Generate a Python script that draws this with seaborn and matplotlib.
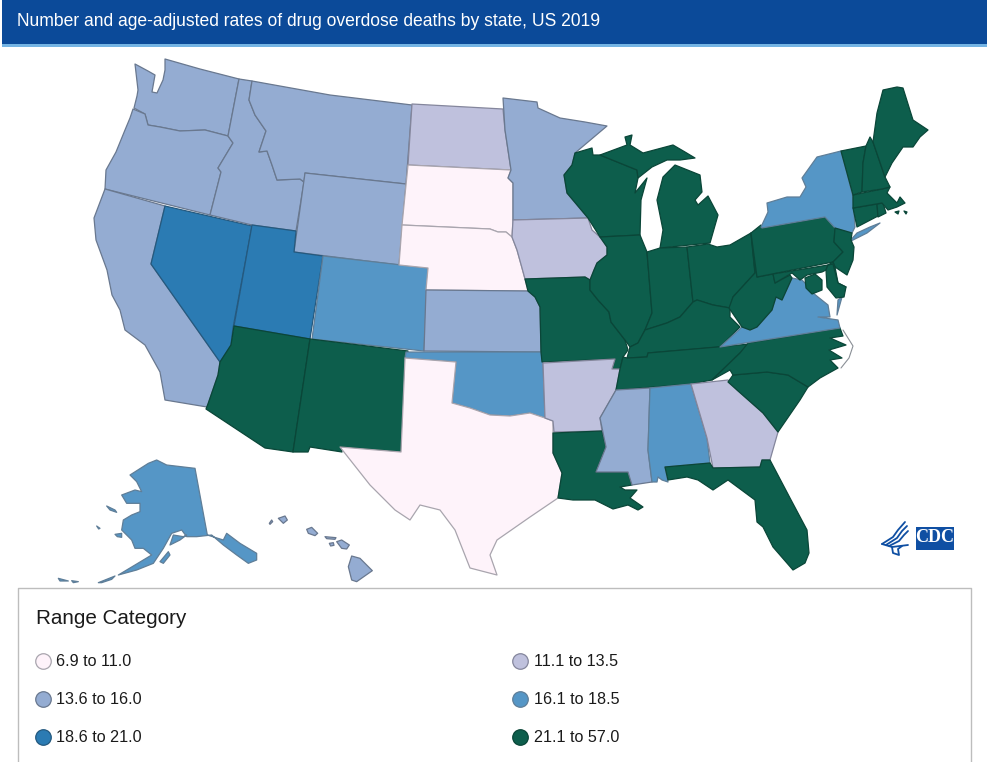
import matplotlib
matplotlib.use("Agg")
import matplotlib.pyplot as plt
from matplotlib.patches import Rectangle
import pandas as pd
import seaborn as sns

TITLE = "Number and age-adjusted rates of drug overdose deaths by state, US 2019"
LEGEND_TITLE = "Range Category"
RANGES = ["6.9 to 11.0", "11.1 to 13.5", "13.6 to 16.0", "16.1 to 18.5", "18.6 to 21.0", "21.1 to 57.0"]
COLORS = ["#FEF3FA", "#BFC1DD", "#94ACD2", "#5596C6", "#2B7BB3", "#0D5E4C"]
EDGES = ["#A9A5AE", "#84869C", "#69788F", "#5F7E98", "#24597F", "#0A4638"]

STATE_RANGE = {
    "SD": 0, "NE": 0, "TX": 0,
    "ND": 1, "IA": 1, "AR": 1, "GA": 1,
    "WA": 2, "OR": 2, "CA": 2, "ID": 2, "MT": 2, "WY": 2, "MN": 2, "KS": 2, "MS": 2, "HI": 2,
    "CO": 3, "OK": 3, "AL": 3, "VA": 3, "NY": 3, "AK": 3,
    "NV": 4, "UT": 4,
    "AZ": 5, "NM": 5, "MO": 5, "LA": 5, "WI": 5, "IL": 5, "IN": 5, "MI": 5, "OH": 5, "KY": 5, "TN": 5,
    "WV": 5, "PA": 5, "NJ": 5, "DE": 5, "MD": 5, "NC": 5, "SC": 5, "FL": 5, "CT": 5, "RI": 5, "MA": 5,
    "VT": 5, "NH": 5, "ME": 5,
}

# State outlines (picture pixels)
OUTLINES = {
    "WA": [[(165,59),(200,69),(239,79),(228,136),(205,130),(180,131),(160,127),(148,125),(145,114),(134,108),(137,96),(138,90),(135,64),(148,71),(155,75),(152,92),(157,93),(163,80),(165,70)]],
    "OR": [[(133,109),(145,114),(148,125),(160,127),(180,131),(205,130),(228,136),(233,143),(218,168),(221,172),(210,215),(105,189),(106,170),(116,152),(125,130),(130,118)]],
    "CA": [[(105,189),(165,206),(151,264),(220,362),(218,375),(207,407),(165,400),(160,372),(145,345),(125,330),(120,310),(112,295),(107,270),(96,240),(94,218)]],
    "NV": [[(165,206),(252,226),(233,328),(231,345),(220,362),(151,264)]],
    "ID": [[(239,79),(252,81),(249,100),(255,115),(266,131),(259,152),(267,151),(272,165),(277,180),(300,179),(304,182),(296,231),(252,225),(210,215),(221,172),(218,168),(233,143),(228,136)]],
    "MT": [[(252,81),(330,95),(412,105),(406,184),(305,173),(304,182),(300,179),(277,180),(272,165),(267,151),(259,152),(266,131),(255,115),(249,100)]],
    "WY": [[(305,173),(406,184),(399,265),(294,252)]],
    "UT": [[(252,225),(296,231),(294,252),(323,256),(310,339),(234,326)]],
    "CO": [[(323,256),(428,268),(424,351),(312,339)]],
    "AZ": [[(234,326),(310,339),(293,452),(265,448),(206,409),(208,404),(218,375),(220,362),(231,345)]],
    "NM": [[(310,339),(408,351),(401,452),(341,447),(342,452),(310,447),(308,452),(293,452)]],
    "ND": [[(412,104),(503,109),(505,130),(511,170),(408,165)]],
    "SD": [[(408,165),(511,170),(508,178),(513,183),(513,220),(512,237),(506,232),(498,232),(490,229),(402,225)]],
    "NE": [[(402,225),(490,229),(498,232),(506,232),(512,237),(517,250),(522,268),(525,279),(528,291),(426,290),(428,268),(399,265)]],
    "KS": [[(426,290),(528,291),(535,297),(540,307),(541,352),(424,351)]],
    "OK": [[(406,352),(541,352),(543,363),(545,418),(530,413),(510,416),(490,415),(470,408),(452,403),(456,362),(405,358)]],
    "TX": [[(405,358),(456,362),(452,403),(470,408),(490,415),(510,416),(530,413),(545,418),(553,421),(553,453),(562,473),(558,498),(530,517),(497,540),(490,555),(497,575),(470,568),(455,530),(440,510),(420,505),(410,520),(395,510),(370,485),(340,447),(401,452)]],
    "MN": [[(503,98),(537,102),(538,108),(560,118),(585,122),(607,126),(575,153),(572,165),(564,175),(567,193),(588,218),(513,220),(513,183),(508,178),(511,170),(505,130)]],
    "IA": [[(513,220),(588,218),(592,230),(600,237),(607,247),(607,255),(597,263),(594,270),(590,280),(585,277),(525,279),(522,268),(517,250),(512,237)]],
    "MO": [[(525,279),(585,277),(590,280),(590,290),(598,300),(609,312),(611,322),(625,340),(628,350),(623,357),(620,369),(612,369),(615,359),(542,362),(541,352),(540,307),(535,297),(528,291)]],
    "AR": [[(543,363),(615,359),(612,369),(620,369),(616,390),(600,418),(602,431),(554,432),(553,421),(545,418)]],
    "LA": [[(553,433),(602,431),(606,447),(596,472),(628,472),(632,485),(620,487),(625,490),(637,490),(630,498),(643,507),(638,510),(628,505),(613,509),(595,500),(573,500),(558,498),(562,473),(553,453)]],
    "WI": [[(575,153),(592,148),(593,155),(600,155),(637,170),(638,178),(635,193),(647,178),(641,200),(640,235),(600,237),(588,218),(567,193),(564,175),(572,165)]],
    "MI": [[(600,155),(627,145),(625,137),(632,135),(630,145),(643,153),(673,145),(685,152),(695,158),(680,160),(667,160),(652,167),(638,178),(637,170)],
           [(675,165),(700,175),(702,192),(695,200),(698,205),(708,196),(718,215),(710,243),(660,248),(663,230),(657,200),(663,177)]],
    "IL": [[(600,237),(640,235),(647,252),(652,313),(645,330),(638,343),(630,347),(625,340),(611,322),(609,312),(598,300),(590,290),(590,280),(594,270),(597,263),(607,255),(607,247)]],
    "IN": [[(647,252),(660,248),(687,247),(693,302),(680,317),(667,323),(645,330),(652,313)]],
    "OH": [[(687,247),(708,244),(717,247),(730,245),(751,233),(755,273),(733,297),(730,308),(713,305),(697,300),(693,302)]],
    "KY": [[(645,330),(667,323),(680,317),(693,302),(697,300),(713,305),(730,308),(730,317),(740,327),(720,347),(648,353),(647,357),(627,358),(630,347),(638,343)]],
    "TN": [[(627,358),(647,357),(648,353),(717,347),(750,344),(740,353),(712,380),(691,384),(616,390),(620,369),(623,357)]],
    "MS": [[(616,390),(650,388),(648,450),(652,482),(632,485),(628,472),(596,472),(606,447),(600,418)]],
    "AL": [[(650,388),(691,384),(707,438),(710,463),(665,467),(668,482),(662,480),(658,477),(657,482),(652,482),(648,450)]],
    "GA": [[(691,384),(728,380),(737,390),(763,413),(778,432),(770,460),(762,460),(760,467),(713,468),(707,438)]],
    "FL": [[(665,467),(710,463),(713,468),(760,467),(762,460),(770,460),(790,498),(807,530),(809,553),(805,563),(793,570),(773,547),(763,527),(757,522),(755,500),(728,480),(713,490),(698,480),(687,477),(668,480)]],
    "SC": [[(728,382),(733,375),(767,372),(788,375),(808,387),(800,400),(778,432),(763,413),(737,390)]],
    "NC": [[(712,380),(730,370),(733,375),(767,372),(788,375),(808,387),(820,378),(838,368),(830,360),(842,358),(829,350),(846,345),(830,338),(843,336),(840,328),(748,343),(740,353)]],
    "VA": [[(720,347),(840,328),(838,320),(818,317),(830,317),(828,305),(813,293),(805,283),(802,280),(792,278),(782,300),(776,297),(772,310),(757,327),(750,330),(742,327)],
           [(837,315),(842,297),(838,300)]],
    "WV": [[(751,233),(757,277),(773,274),(775,283),(790,275),(792,278),(782,300),(776,297),(772,310),(757,327),(750,330),(742,327),(729,308),(733,297),(755,273)]],
    "PA": [[(751,233),(761,225),(762,228),(825,217),(832,224),(835,228),(834,242),(843,252),(833,262),(757,277)]],
    "NY": [[(761,227),(768,212),(767,203),(787,197),(800,197),(806,187),(802,178),(817,157),(841,151),(847,173),(853,197),(855,227),(852,233),(835,228),(825,217),(762,228)],
           [(849,242),(857,233),(870,227),(880,223),(867,233),(853,240)]],
    "NJ": [[(835,228),(852,233),(851,240),(854,247),(853,260),(847,275),(835,267),(833,262),(843,252),(834,242)]],
    "DE": [[(828,265),(833,262),(835,267),(838,283),(846,287),(834,287)]],
    "MD": [[(773,274),(828,265),(826,270),(822,272),(807,275),(800,280),(792,273),(775,283)],
           [(826,270),(828,265),(833,264),(838,283),(846,287),(844,297),(836,298),(827,287)],
           [(805,278),(815,274),(822,280),(822,290),(812,294),(806,288)]],
    "CT": [[(853,208),(877,204),(878,216),(857,227)]],
    "RI": [[(877,204),(883,203),(886,213),(878,217)]],
    "MA": [[(853,195),(882,189),(890,187),(887,193),(897,203),(900,197),(905,203),(897,207),(888,210),(882,203),(853,208)],
           [(895,212),(899,211),(898,214)],
           [(904,211),(907,212),(906,214)]],
    "VT": [[(841,151),(866,146),(863,163),(862,192),(853,195),(847,173)]],
    "NH": [[(866,146),(870,137),(873,142),(885,177),(890,187),(882,189),(862,192),(863,163)]],
    "ME": [[(873,142),(877,113),(883,90),(897,87),(903,88),(913,120),(928,130),(920,137),(913,147),(903,147),(892,163),(885,177)]],
}

AK_HI_CROP = {
    "AK": [[(270,105),(325,70),(350,60),(380,75),(465,85),(502,285),(550,300),(560,280),(600,310),(650,340),(650,360),(625,370),(590,345),(550,315),(515,285),(470,290),(440,290),(425,270),(395,280),(370,325),(340,370),(290,390),(235,405),(290,372),(335,345),(310,325),(285,325),(275,300),(245,270),(250,240),(275,225),(300,215),(300,190),(260,190),(245,165),(285,150),(305,155),(290,125)],
           [(360,365),(385,335),(390,345),(370,370)],
           [(390,315),(400,285),(430,290),(440,285),(420,300)],
           [(225,283),(245,280),(245,292),(232,290)],
           [(200,198),(225,210),(230,217),(210,210)],
           [(175,428),(225,408),(215,418),(185,428)],
           [(55,415),(85,423),(60,423)],
           [(95,422),(115,425),(100,428)],
           [(170,258),(180,265),(176,267)]],
    "HI": [[(715,235),(735,228),(742,240),(730,250)],
           [(688,250),(695,240),(698,245),(690,253)],
           [(800,268),(815,262),(833,280),(825,287),(805,280)],
           [(855,290),(888,293),(885,298),(860,296)],
           [(868,310),(880,308),(882,316),(872,318)],
           [(890,305),(905,300),(928,315),(920,327),(905,325)],
           [(935,348),(960,355),(997,392),(950,425),(935,420),(925,380)]],
}
for state, parts in AK_HI_CROP.items():
    OUTLINES[state] = [[(40 + x / 3, 440 + y / 3) for x, y in part] for part in parts]

LEGEND_ORDER = [0, 2, 4, 1, 3, 5]

sns.set_theme(style="white")
plt.rcParams["font.family"] = ["Liberation Sans", "DejaVu Sans"]

fig = plt.figure(figsize=(9.92, 7.62), dpi=100, facecolor="white")
ax = fig.add_axes([0, 0, 1, 1])
ax.set_xlim(0, 992)
ax.set_ylim(762, 0)
ax.axis("off")

# Header
ax.add_patch(Rectangle((2, 0), 985, 44, fc="#0B4A99", ec="none"))
ax.add_patch(Rectangle((2, 44), 985, 3, fc="#74B4E4", ec="none"))
ax.text(17, 21, TITLE, color="white", fontsize=12.65, va="center", ha="left")

# States
for state, parts in OUTLINES.items():
    k = STATE_RANGE[state]
    for part in parts:
        xs, ys = zip(*part)
        ax.fill(xs, ys, facecolor=COLORS[k], edgecolor=EDGES[k], linewidth=0.9, joinstyle="round", zorder=2)

# Outer Banks, a thin line off the North Carolina coast
ax.plot([843, 853, 849, 841], [330, 346, 358, 368], color="#8A8F96", lw=0.8, zorder=2)

# Legend panel
ax.plot([18, 18, 971, 971], [770, 588, 588, 770], color="#BDBDBD", lw=1.0, zorder=3)
ax.text(36, 619, LEGEND_TITLE, fontsize=14.9, color="#1A1A1A", va="center", ha="left")

legend_df = pd.DataFrame({
    "range": [RANGES[i] for i in LEGEND_ORDER],
    "x": [43, 43, 43, 520, 520, 520],
    "y": [661, 699, 737, 661, 699, 737],
})
for row in legend_df.itertuples():
    k = RANGES.index(row.range)
    sns.scatterplot(x=[row.x], y=[row.y], color=COLORS[k], edgecolor=EDGES[k], s=125, linewidth=0.9, ax=ax, legend=False, zorder=4)
    ax.text(row.x + 13.5, row.y, row.range, fontsize=11.6, color="#1A1A1A", va="center", ha="left")
ax.set_xlim(0, 992)
ax.set_ylim(762, 0)
ax.set_xlabel("")
ax.set_ylabel("")

# CDC logo
ax.add_patch(Rectangle((916, 527), 38, 23, fc="#0F4FA3", ec="none", zorder=3))
ax.text(935, 537, "CDC", color="white", fontsize=13, family="Liberation Serif", weight="bold", ha="center", va="center", zorder=4)
for feather in ([(882, 544), (893, 537), (898, 530), (905, 522)],
                [(886, 545), (897, 538), (902, 531), (907, 526)],
                [(889, 546), (899, 541), (904, 535), (908, 531)],
                [(882, 544), (892, 547), (908, 545)],
                [(892, 547), (893, 553), (899, 555), (898, 549), (902, 546)]):
    fx, fy = zip(*feather)
    ax.plot(fx, fy, color="#0F4FA3", lw=1.3, solid_capstyle="round", zorder=3)

fig.savefig("out.png", dpi=100)
